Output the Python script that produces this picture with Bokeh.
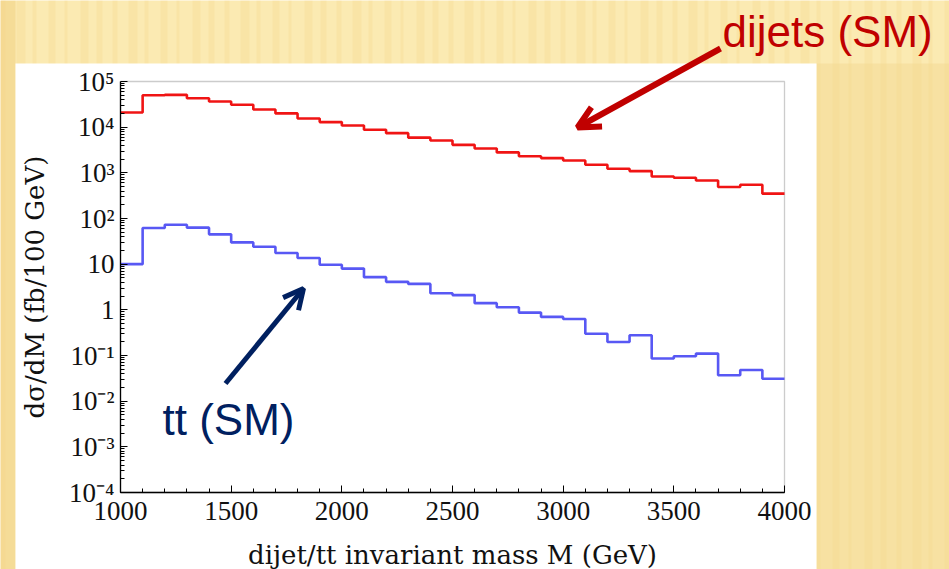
import math
from bokeh.plotting import figure
from bokeh.models import (FixedTicker, BoxAnnotation, Label, Arrow, OpenHead, Range1d)
from bokeh.embed import file_html
from bokeh.resources import INLINE

# ---- data ----
bin_edges = [1000, 1100, 1200, 1300, 1400, 1500, 1600, 1700, 1800, 1900, 2000,
             2100, 2200, 2300, 2400, 2500, 2600, 2700, 2800, 2900, 3000,
             3100, 3200, 3300, 3400, 3500, 3600, 3700, 3800, 3900, 4000]
dijets = [2.1e4, 5.0e4, 5.1e4, 4.3e4, 3.65e4, 3.1e4, 2.44e4, 2.0e4, 1.55e4, 1.29e4,
          1.09e4, 8.8e3, 7.4e3, 5.9e3, 5.1e3, 4.1e3, 3.4e3, 2.8e3, 2.3e3, 2.1e3,
          1.86e3, 1.5e3, 1.23e3, 1.09e3, 830, 780, 680, 490, 550, 350]
ttbar = [10, 62, 73, 63, 45, 30, 24, 17.5, 13.6, 9.7,
         8.0, 5.2, 4.1, 3.7, 2.3, 2.1, 1.4, 1.14, 0.87, 0.70,
         0.63, 0.30, 0.197, 0.277, 0.086, 0.096, 0.11, 0.037, 0.048, 0.031]
x_ticks = [1000, 1500, 2000, 2500, 3000, 3500, 4000]
y_ticks = [1e-4, 1e-3, 1e-2, 0.1, 1, 10, 100, 1e3, 1e4, 1e5]
y_tick_labels = ["10\u207b\u2074", "10\u207b\u00b3", "10\u207b\u00b2", "10\u207b\u00b9", "1", "10",
                 "10\u00b2", "10\u00b3", "10\u2074", "10\u2075"]
x_label = "dijet/tt invariant mass M (GeV)"
y_label = "d\u03c3/dM (fb/100 GeV)"

# ---- chart box in window pixels: x 120..784, y 81..492 ----
FL, FR, FT, FB = 120, 784, 81, 492
XMIN, XMAX, YMIN, YMAX = 1000, 4000, 1e-4, 1e5
W, H = 949, 569


def dx(px):
    return XMIN + (px - FL) * (XMAX - XMIN) / (FR - FL)


def dy(py):
    lmin, lmax = math.log10(YMIN), math.log10(YMAX)
    return 10 ** (lmax - (py - FT) * (lmax - lmin) / (FB - FT))


# the frame covers the whole window; the chart's axes sit at fixed locations in it
p = figure(width=W, height=H, output_backend="svg", toolbar_location=None,
           x_range=Range1d(dx(0), dx(W)), y_range=Range1d(dy(H), dy(0)),
           y_axis_type="log", min_border=0, min_border_left=0, min_border_right=0,
           min_border_top=0, min_border_bottom=0)
p.border_fill_color = "#FBEAB2"
p.background_fill_color = "#FBEAB2"
p.outline_line_color = None
p.grid.visible = False

# slide background streaks (decoration)
stripe_widths = [5, 9, 4, 7, 3, 8, 6]
for i, sx in enumerate(range(0, W, 16)):
    w = stripe_widths[i % len(stripe_widths)]
    p.add_layout(BoxAnnotation(left=dx(sx), right=dx(sx + w), top=dy(0), bottom=dy(H),
                               fill_color="#F3D58A", fill_alpha=0.28, line_alpha=0,
                               level="underlay"))
p.add_layout(BoxAnnotation(left=dx(0), right=dx(15), top=dy(0), bottom=dy(H),
                           fill_color="#F2D286", fill_alpha=0.6, line_alpha=0,
                           level="underlay"))
p.add_layout(BoxAnnotation(left=dx(816), right=dx(W), top=dy(63), bottom=dy(H),
                           fill_color="#F2D68E", fill_alpha=0.45, line_alpha=0,
                           level="underlay"))

# white slide panel behind the chart
p.add_layout(BoxAnnotation(left=dx(15), right=dx(816), top=dy(63), bottom=dy(H),
                           fill_color="white", fill_alpha=1.0, line_alpha=0,
                           level="underlay"))
# chart box
p.add_layout(BoxAnnotation(left=XMIN, right=XMAX, top=YMAX, bottom=YMIN,
                           fill_alpha=0, line_color="#555555", line_width=1.3,
                           level="underlay"))

# histograms
p.step(x=bin_edges, y=dijets + [dijets[-1]], mode="after", line_color="#F01414", line_width=2.6)
p.step(x=bin_edges, y=ttbar + [ttbar[-1]], mode="after", line_color="#5858F4", line_width=2.6)

# axes
xa = p.xaxis[0]
xa.fixed_location = YMIN
xa.bounds = (XMIN, XMAX)
xa.ticker = FixedTicker(ticks=x_ticks, minor_ticks=bin_edges)
xa.axis_label = x_label
ya = p.yaxis[0]
ya.fixed_location = XMIN
ya.bounds = (YMIN, YMAX)
ya.ticker = FixedTicker(ticks=y_ticks,
                        minor_ticks=[m * 10.0 ** k for k in range(-4, 5) for m in range(2, 10)])
ya.major_label_overrides = {t: l for t, l in zip(y_ticks, y_tick_labels)}
ya.axis_label = y_label
for ax in (xa, ya):
    ax.axis_line_color = "black"
    ax.axis_line_width = 1.3
    ax.major_tick_line_color = "black"
    ax.minor_tick_line_color = "black"
    ax.major_tick_in = 7
    ax.major_tick_out = 0
    ax.minor_tick_in = 4
    ax.minor_tick_out = 0
    ax.major_label_text_font = "Liberation Serif"
    ax.major_label_text_font_size = "27px"
    ax.major_label_text_color = "#111111"
    ax.axis_label_text_font = "DejaVu Serif"
    ax.axis_label_text_font_size = "26px"
    ax.axis_label_text_font_style = "normal"
    ax.axis_label_text_color = "#111111"
xa.major_label_standoff = 9
xa.axis_label_standoff = 17
ya.major_label_standoff = 6
ya.axis_label_standoff = 16

# annotations
p.add_layout(Arrow(end=OpenHead(size=22, line_color="#C00000", line_width=6),
                   x_start=dx(720), y_start=dy(48), x_end=dx(577), y_end=dy(127),
                   line_color="#C00000", line_width=6))
p.add_layout(Arrow(end=OpenHead(size=20, line_color="#002060", line_width=5),
                   x_start=dx(225), y_start=dy(383), x_end=dx(303), y_end=dy(288),
                   line_color="#002060", line_width=5))
p.add_layout(Label(x=dx(722), y=dy(31), text="dijets (SM)", text_font="Liberation Sans",
                   text_font_size="44px", text_color="#C00000",
                   text_align="left", text_baseline="alphabetic"))
p.add_layout(Label(x=dx(162), y=dy(419), text="tt (SM)", text_font="Liberation Sans",
                   text_font_size="44px", text_color="#002060",
                   text_align="left", text_baseline="alphabetic"))

open("out.html", "w").write(file_html(p, INLINE))
